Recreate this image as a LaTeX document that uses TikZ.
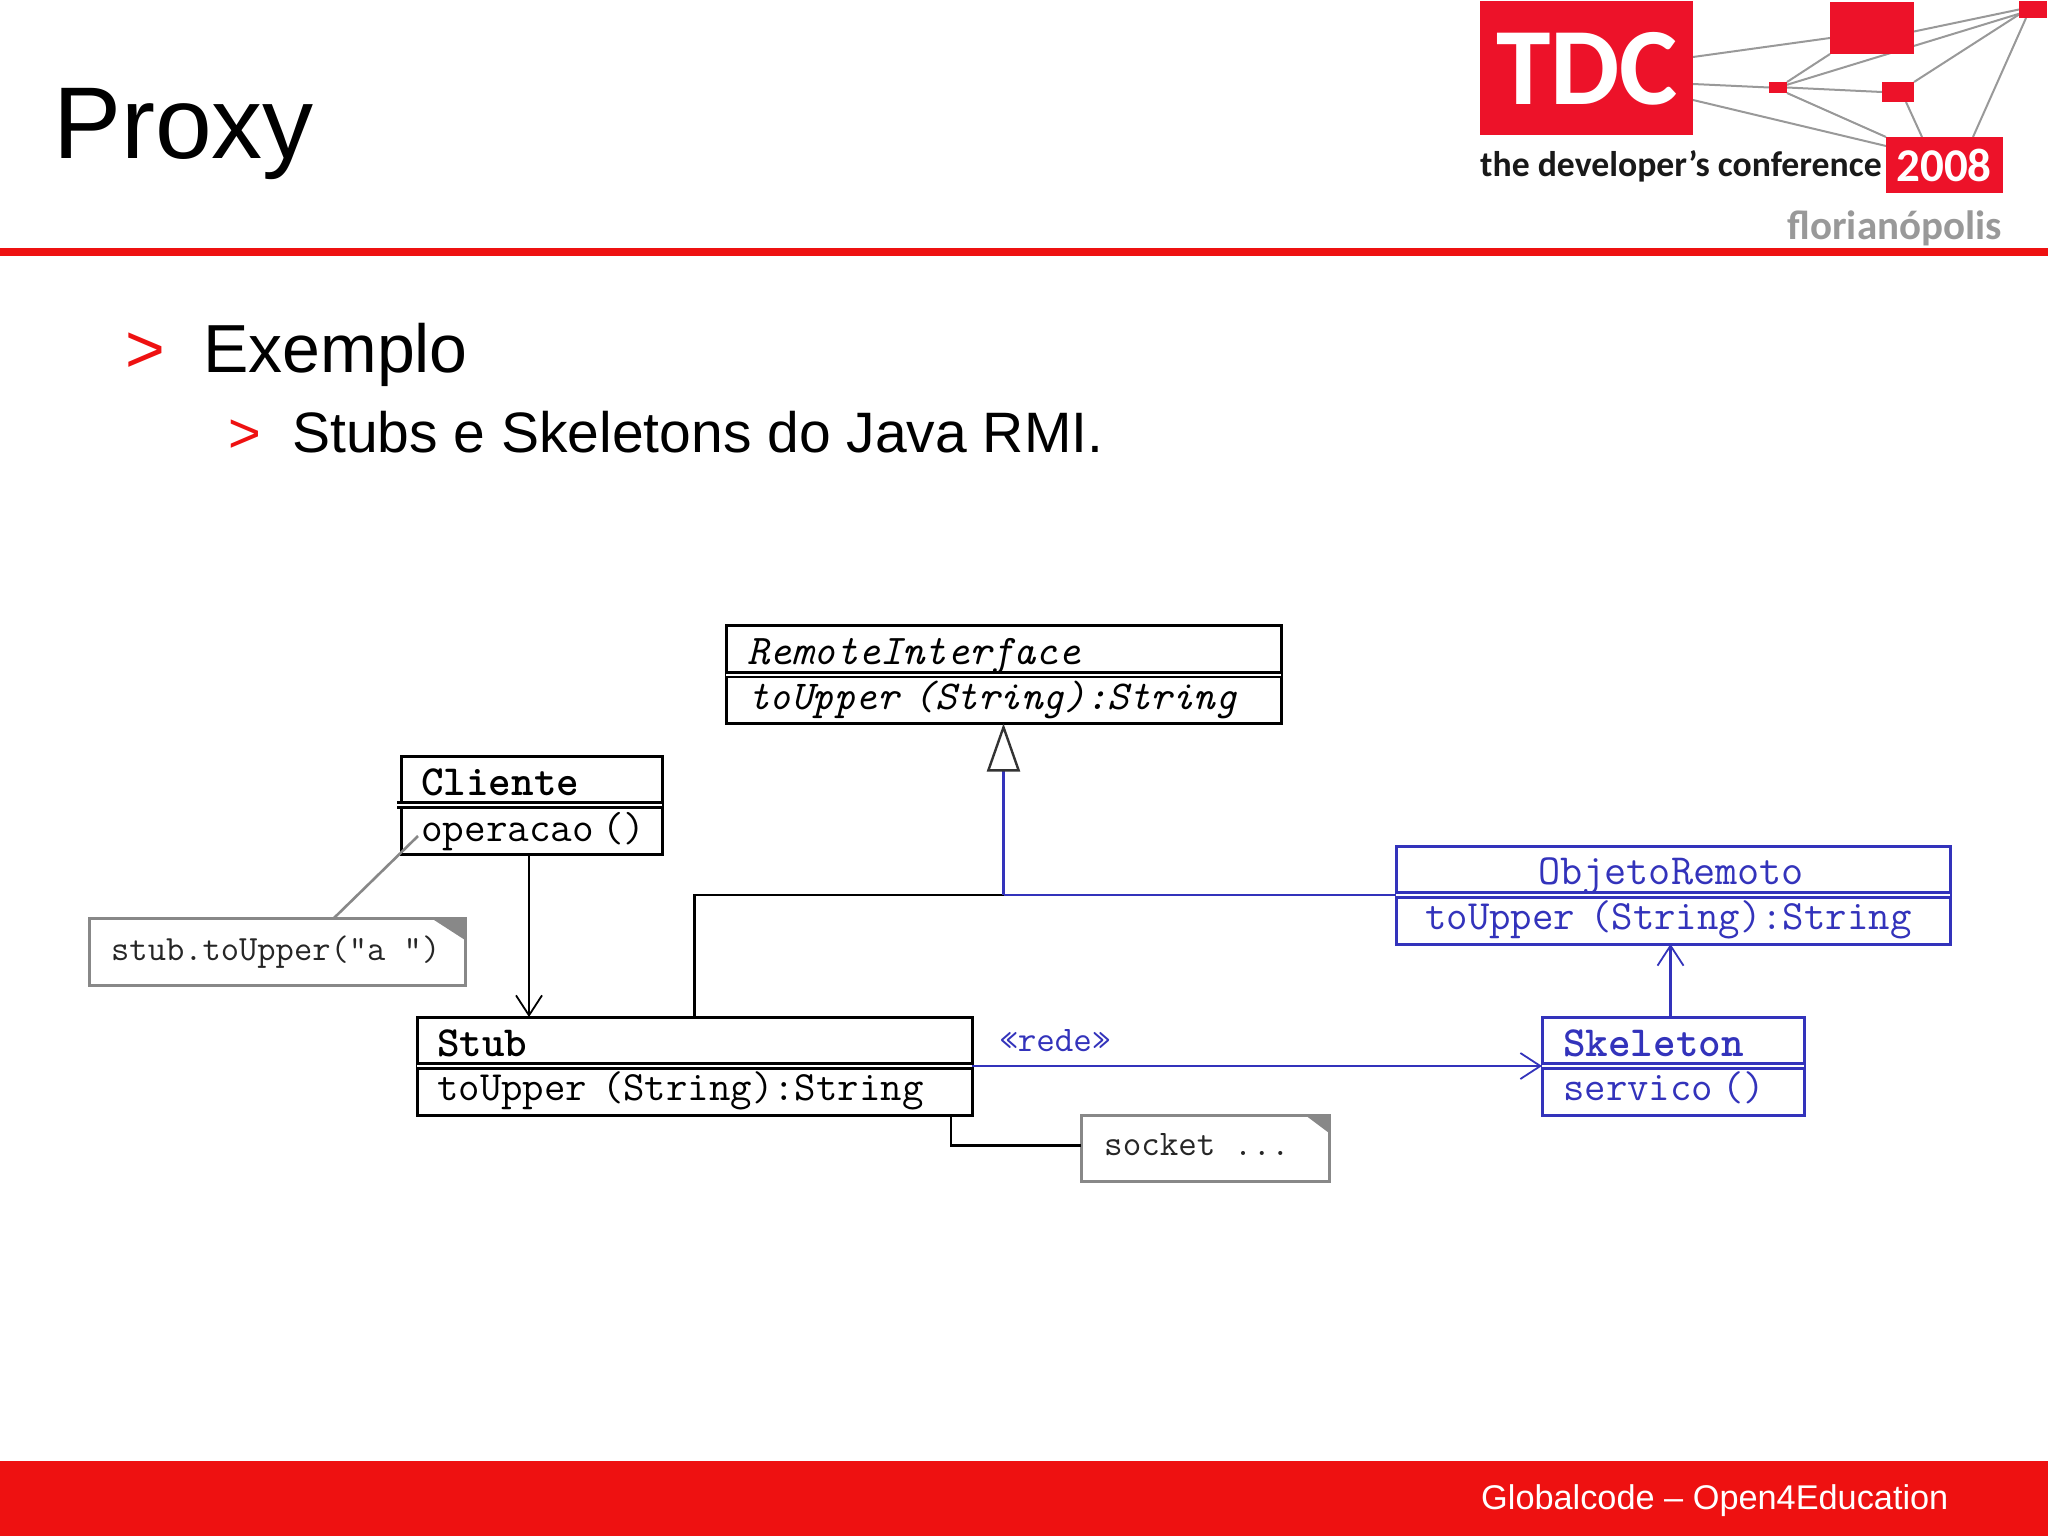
\documentclass[tikz,border=0pt]{standalone}
\usepackage{fontspec}
\setmainfont{Liberation Sans}
\newfontfamily\logofont{Carlito}
\usetikzlibrary{positioning,arrows.meta,backgrounds}
\definecolor{tdcred}{HTML}{EE1111}
\definecolor{logored}{HTML}{ED1229}
\definecolor{umlblue}{HTML}{3333BB}
\definecolor{notegray}{HTML}{888888}
\newcommand{\umlfont}{\ttfamily\fontsize{41.6}{48}\selectfont}
\newcommand{\namefont}{\ttfamily\fontsize{43}{50}\selectfont}
\newcommand{\notefont}{\ttfamily\fontsize{36}{42}\selectfont}
\tikzset{
  classbox/.style={rectangle, draw=black, line width=3pt, inner sep=0pt, outer sep=0pt, minimum width=#1, minimum height=98pt},
  bluebox/.style={classbox=#1, draw=umlblue},
  notebox/.style={rectangle, draw=notegray, line width=3pt, inner sep=0pt, outer sep=0pt},
  umltext/.style={anchor=base west, inner sep=0pt, font=\umlfont},
  bluetext/.style={umltext, text=umlblue},
  notetext/.style={anchor=base west, inner sep=0pt, font=\notefont, text=black!85},
  sepline/.style={draw=black, line width=2.6pt, double=white, double distance=2pt},
  myarrow/.style={draw, line width=2.6pt, -{Straight Barb[length=20pt,width=26pt,line width=1.8pt]}},
  logobox/.style={rectangle, fill=logored, inner sep=0pt, outer sep=0pt},
  logoline/.style={draw=black!40, line width=2pt},
}
\begin{document}
\begin{tikzpicture}[x=1pt, y=-1pt]
    \useasboundingbox (0,0) rectangle (2048,1536);

    % slide frame
    \fill[tdcred] (0,248) rectangle (2048,256);
    \fill[tdcred] (0,1461) rectangle (2048,1536);
    \node[anchor=base west, inner sep=0pt, font=\fontsize{102}{120}\selectfont] (title) at (53,159) {Proxy};
    \node[anchor=base west, inner sep=0pt, text=white, font=\fontsize{34.3}{40}\selectfont] (footer) at (1481,1509) {Globalcode – Open4Education};

    % bullets
    \node[anchor=base west, inner sep=0pt, text=tdcred, font=\fontsize{68}{80}\selectfont] (bullet1) at (125.5,372) {>};
    \node[anchor=base west, inner sep=0pt, font=\fontsize{68}{80}\selectfont] (item1) at (203,372) {Exemplo};
    \node[anchor=base west, inner sep=0pt, text=tdcred, font=\fontsize{56}{66}\selectfont] (bullet2) at (228,452) {>};
    \node[anchor=base west, inner sep=0pt, font=\fontsize{57}{66}\selectfont] (item2) at (292,452) {Stubs e Skeletons do Java RMI.};

    % logo
    \node[logobox, minimum width=213pt, minimum height=134pt] (tdc) at (1586.5,68) {};
    \node[logobox, minimum width=84pt, minimum height=52pt] (big) at (1872,28) {};
    \node[logobox, minimum width=28pt, minimum height=17pt] (corner) at (2033,9.5) {};
    \node[logobox, minimum width=18pt, minimum height=11pt] (small) at (1778,87.5) {};
    \node[logobox, minimum width=32pt, minimum height=20pt] (medium) at (1898,92) {};
    \node[logobox, minimum width=117pt, minimum height=56pt] (year) at (1944.5,165) {};
    \node[anchor=base, inner sep=0pt, text=white, font=\logofont\bfseries\fontsize{110}{120}\selectfont] (tdctext) at (1587,105) {TDC};
    \node[anchor=base, inner sep=0pt, text=white, font=\logofont\bfseries\fontsize{47}{54}\selectfont] (yeartext) at (1944,181) {2008};
    \node[anchor=base west, inner sep=0pt, text=black!90, font=\logofont\bfseries\fontsize{35.7}{42}\selectfont] (devtext) at (1480,176) {the developer’s conference};
    \node[anchor=base east, inner sep=0pt, text=black!40, font=\logofont\bfseries\fontsize{41}{48}\selectfont] (cidade) at (2002,239) {florianópolis};
    \begin{scope}[on background layer]
    \draw[logoline] ([yshift=11pt]tdc.east) -- ([yshift=-10pt]big.west);
    \draw[logoline] ([yshift=-16pt]tdc.east) -- (small.west);
    \draw[logoline] ([yshift=-32pt]tdc.east) -- ([yshift=19pt]year.west);
    \draw[logoline] ([yshift=-3.5pt]big.east) -- (corner.west);
    \draw[logoline] (small) -- (corner);
    \draw[logoline] (big.south west) -- (small.north east);
    \draw[logoline] (small.east) -- (medium.west);
    \draw[logoline] (small.south east) -- (year.north west);
    \draw[logoline] (medium.north east) -- ([yshift=-5pt]corner.west);
    \draw[logoline] ([xshift=8pt]medium.south) -- ([xshift=-22.5pt]year.north);
    \draw[logoline] ([xshift=-7pt]corner.south) -- ([xshift=28.5pt]year.north);
    \end{scope}

    % classes
    \node[classbox=555pt] (remote) at (1003.5,674.5) {};
    \node[umltext, font=\ttfamily\fontsize{42.3}{50}\selectfont\itshape] (remotename) at (747,664) {RemoteInterface};
    \node[umltext, font=\ttfamily\fontsize{41}{48}\selectfont\itshape] (remoteop) at (748,709) {toUpper\hspace{15pt}(String):String};

    \node[classbox=261pt] (cliente) at (531.5,805) {};
    \node[umltext, font=\namefont\bfseries] (clientename) at (421,795.5) {Cliente};
    \node[umltext, font=\ttfamily\fontsize{42}{48}\selectfont] (clienteop) at (421,841) {operacao\hspace{8pt}()};

    \node[classbox=555pt] (stub) at (694.5,1066) {};
    \node[umltext, font=\namefont\bfseries] (stubname) at (437,1056) {Stub};
    \node[umltext] (stubop) at (437,1100) {toUpper\hspace{15pt}(String):String};

    \node[bluebox=554pt] (objeto) at (1673,895) {};
    \node[bluetext, anchor=base, font=\namefont] (objetoname) at (1671,884) {ObjetoRemoto};
    \node[bluetext] (objetoop) at (1425,929) {toUpper\hspace{15pt}(String):String};

    \node[bluebox=262pt] (skeleton) at (1673,1066) {};
    \node[bluetext, font=\namefont\bfseries] (skeletonname) at (1563,1056) {Skeleton};
    \node[bluetext] (skeletonop) at (1563,1100) {servico\hspace{9pt}()};

    \foreach \cls in {remote,stub}
        \draw[sepline] (\cls.west) -- (\cls.east);
    \draw[sepline] ([xshift=-4pt]cliente.west) -- (cliente.east);
    \foreach \cls in {objeto,skeleton}
        \draw[sepline, draw=umlblue] (\cls.west) -- (\cls.east);

    % notes
    \node[notebox, minimum width=376pt, minimum height=67pt] (note1) at (277,951.5) {};
    \fill[notegray] (note1.north east) -- ++(-34,0) -- ++(34,22) -- cycle;
    \node[notetext, font=\ttfamily\fontsize{35.5}{42}\selectfont] (note1text) at (111,960) {stub.toUpper("a ")};
    \node[notebox, minimum width=248pt, minimum height=66pt] (note2) at (1205,1148) {};
    \fill[notegray] (note2.north east) -- ++(-24,0) -- ++(24,18) -- cycle;
    \node[notetext] (note2text) at (1104,1155) {socket ...};

    % connectors
    \coordinate (junction) at (remote.south |- objeto.west);
    \coordinate (note1end) at (418,836);
    \coordinate (note2elbow) at (951,1115);
    \draw[myarrow] ([xshift=-2.5pt]cliente.south) -- ([xshift=-2.5pt]cliente.south |- stub.north);
    \draw[line width=2.6pt] (stub.north) |- (junction);
    \draw[draw=umlblue, line width=2.6pt] (junction) -- (objeto.west);
    \draw[draw=umlblue, line width=2.6pt, -{Triangle[open, fill=white, color=black!80, length=48pt, width=33pt, line width=2.4pt]}] (junction) -- (remote.south);
    \draw[myarrow, draw=umlblue] (stub.east) -- (skeleton.west) node[pos=0, anchor=base west, inner sep=0pt, xshift=26pt, yshift=15pt, text=umlblue, font=\ttfamily\fontsize{36}{42}\selectfont] (rede) {«rede»};
    \draw[myarrow, draw=umlblue] ([xshift=-2.5pt]skeleton.north) -- ([xshift=-2.5pt]skeleton.north |- objeto.south);
    \draw[draw=notegray, line width=2.6pt] ([xshift=57pt]note1.north) -- (note1end);
    \draw[line width=2.6pt] (note2elbow) |- ([yshift=2.5pt]note2.west);
\end{tikzpicture}
\end{document}
